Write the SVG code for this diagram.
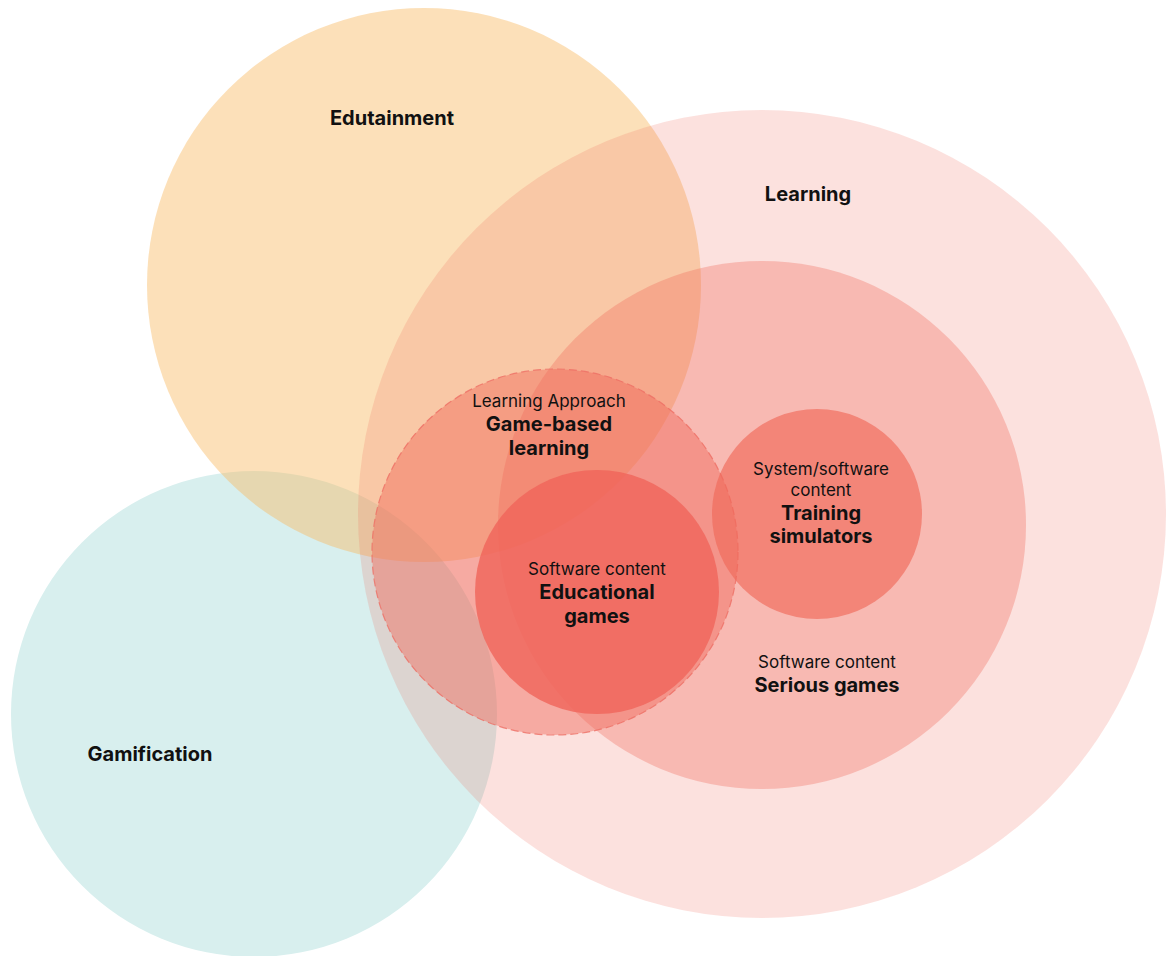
<svg xmlns="http://www.w3.org/2000/svg" width="1170" height="956" viewBox="0 0 1170 956">
<style>
text{font-family:Inter,"Noto Sans","Liberation Sans",sans-serif;fill:#111;text-anchor:middle}
.t{font-size:20px;font-weight:700}
.s{font-size:17px;font-weight:400}
.red{fill:#F06859}
</style>
<rect width="1170" height="956" fill="#fff"/>
<g id="gamification"><circle cx="254" cy="714" r="243" fill="#D8EFEE"/></g>
<g id="edutainment"><circle cx="424" cy="285" r="277" fill="#F8BA63" fill-opacity="0.45"/></g>
<g id="learning"><circle class="red" cx="762" cy="514" r="404" fill-opacity="0.2"/></g>
<g id="serious-games"><circle class="red" cx="762" cy="525" r="264" fill-opacity="0.33"/></g>
<g id="game-based-learning"><circle class="red" cx="555" cy="552" r="183" fill-opacity="0.45" stroke="#EE6E64" stroke-opacity="0.8" stroke-width="1.2" stroke-dasharray="8 4"/></g>
<g id="training-simulators"><circle class="red" cx="817" cy="514" r="105" fill-opacity="0.65"/></g>
<g id="educational-games"><circle cx="597" cy="592" r="122" fill="#F0645A" fill-opacity="0.8"/></g>
<g id="connectors"></g>
<g id="labels">
<text class="t" x="392" y="125">Edutainment</text>
<text class="t" x="808" y="201">Learning</text>
<text class="t" x="150" y="761">Gamification</text>
<text class="s" x="549" y="407">Learning Approach</text>
<text class="t" x="549" y="431">Game-based</text>
<text class="t" x="549" y="455">learning</text>
<text class="s" x="821" y="475">System/software</text>
<text class="s" x="821" y="496">content</text>
<text class="t" x="821" y="520">Training</text>
<text class="t" x="821" y="543">simulators</text>
<text class="s" x="597" y="575">Software content</text>
<text class="t" x="597" y="599">Educational</text>
<text class="t" x="597" y="623">games</text>
<text class="s" x="827" y="668">Software content</text>
<text class="t" x="827" y="692">Serious games</text>
</g>
</svg>
